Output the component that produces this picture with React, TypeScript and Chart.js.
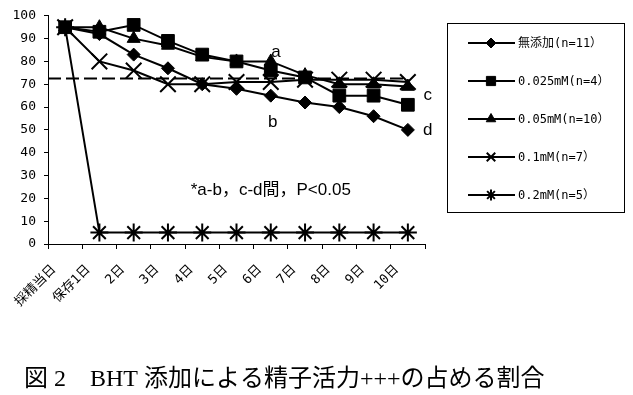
import React, { useEffect, useRef } from 'react';
import { Chart, registerables } from 'chart.js';
import { drawPoint } from 'chart.js/helpers';

Chart.register(...registerables);

const categories = ['採精当日', '保存1日', '2日', '3日', '4日', '5日', '6日', '7日', '8日', '9日', '10日'];
const seriesNames = ['無添加(n=11）', '0.025mM(n=4）', '0.05mM(n=10）', '0.1mM(n=7）', '0.2mM(n=5）'];
const noAdditive = [95, 92, 83, 77, 70, 68, 65, 62, 60, 56, 50];
const bht0025 = [95, 93, 96, 89, 83, 80, 76, 73, 65, 65, 61];
const bht005 = [95, 95, 90, 87, 82, 80, 80, 74, 70, 70, 69];
const bht01 = [95, 80, 76, 70, 70, 71, 71, 72, 72, 72, 71];
const bht02 = [95, 5, 5, 5, 5, 5, 5, 5, 5, 5, 5];
const referenceLevel = 72.5;
const markLabels = ['a', 'b', 'c', 'd'];
const markIndex = [6.15, 6.06, 10.58, 10.58];
const markValues = [84, 53.5, 65.3, 50];
const noteText = '*a-b，c-d間，P<0.05';
const noteIndex = 6;
const noteValue = 23.5;
const caption = '図 2　BHT 添加による精子活力+++の占める割合';

const MONO = "'DejaVu Sans Mono', 'Noto Sans CJK JP', sans-serif";
const pointStyles = ['rectRot', 'rect', 'triangle', 'crossRot', 'star'];
const pointRadii = [6.5, 9, 7.5, 11, 9];
const legendRadii = [5, 6.5, 5.5, 6, 5.5];

const overlay = {
  id: 'overlay',
  beforeDatasetsDraw(chart: any) {
    const { ctx, chartArea, scales } = chart;
    const x = scales.x;
    const y = scales.y;
    const py = y.getPixelForValue(referenceLevel);
    ctx.save();
    ctx.strokeStyle = '#000';
    ctx.lineWidth = 2;
    ctx.setLineDash([13, 5]);
    ctx.beginPath();
    ctx.moveTo(chartArea.left, py);
    ctx.lineTo(x.getPixelForValue(categories.length - 1), py);
    ctx.stroke();
    ctx.restore();
  },
  afterDraw(chart: any) {
    const { ctx, scales } = chart;
    const x = scales.x;
    const y = scales.y;
    ctx.save();
    ctx.fillStyle = '#000';
    ctx.textAlign = 'center';
    ctx.textBaseline = 'middle';
    ctx.font = "17px 'Liberation Sans', sans-serif";
    markLabels.forEach((t, i) => {
      ctx.fillText(t, x.getPixelForValue(markIndex[i]), y.getPixelForValue(markValues[i]));
    });
    ctx.font = "17px 'Liberation Sans', 'Noto Sans CJK JP', sans-serif";
    ctx.fillText(noteText, x.getPixelForValue(noteIndex), y.getPixelForValue(noteValue));

    // legend
    const bx = 447.5, by = 23.5, bw = 177, bh = 189;
    ctx.strokeStyle = '#000';
    ctx.lineWidth = 1;
    ctx.strokeRect(bx, by, bw, bh);
    ctx.textAlign = 'left';
    ctx.font = `12px ${MONO}`;
    chart.data.datasets.forEach((ds: any, i: number) => {
      const ry = 43 + i * 38;
      ctx.lineWidth = 2;
      ctx.strokeStyle = '#000';
      ctx.beginPath();
      ctx.moveTo(468, ry);
      ctx.lineTo(515, ry);
      ctx.stroke();
      ctx.fillStyle = '#000';
      ctx.lineWidth = i >= 3 ? 2 : 1;
      drawPoint(ctx, { pointStyle: pointStyles[i], radius: legendRadii[i], rotation: 0, borderWidth: i >= 3 ? 2 : 1 }, 491, ry);
      ctx.fillStyle = '#000';
      ctx.fillText(ds.label, 518, ry + 1);
    });

    // caption
    ctx.textBaseline = 'alphabetic';
    ctx.font = "24px 'Liberation Serif', 'Noto Sans CJK JP', serif";
    ctx.fillText(caption, 24, 386);
    ctx.restore();
  },
};

export default function App() {
  const ref = useRef<HTMLCanvasElement>(null);
  useEffect(() => {
    document.body.style.margin = '0';
    const canvas = ref.current!;
    const series = [noAdditive, bht0025, bht005, bht01, bht02];
    const chart = new Chart(canvas, {
      type: 'line',
      data: {
        labels: categories,
        datasets: series.map((d, i) => ({
          label: seriesNames[i],
          data: d,
          borderColor: '#000',
          backgroundColor: '#000',
          borderWidth: 2,
          pointStyle: pointStyles[i] as any,
          pointRadius: pointRadii[i],
          pointBorderWidth: i >= 3 ? 2 : 1,
          pointBackgroundColor: '#000',
          pointBorderColor: '#000',
          tension: 0,
          clip: false as any,
        })),
      },
      options: {
        responsive: false,
        animation: false,
        devicePixelRatio: 1,
        layout: { padding: { top: 15, right: 208, left: 0, bottom: 0 } },
        plugins: { legend: { display: false }, tooltip: { enabled: false } },
        scales: {
          x: {
            offset: true,
            grid: { offset: true, drawOnChartArea: false, tickLength: 5, color: '#000' },
            border: { color: '#000', width: 1 },
            ticks: {
              color: '#000',
              minRotation: 45,
              maxRotation: 45,
              autoSkip: false,
              padding: 13,
              labelOffset: -11,
              font: { family: MONO, size: 13 },
            },
            afterFit: (s: any) => { s.height = 151; },
          },
          y: {
            min: 0,
            max: 100,
            ticks: { stepSize: 10, color: '#000', padding: 8, font: { family: MONO, size: 13 } },
            grid: { drawOnChartArea: false, tickLength: 4, color: '#000' },
            border: { color: '#000', width: 1 },
            afterFit: (s: any) => { s.width = 48; },
          },
        },
      },
      plugins: [overlay],
    } as any);
    return () => chart.destroy();
  }, []);
  return (
    <div style={{ width: 633, height: 395 }}>
      <canvas ref={ref} width={633} height={395} style={{ display: 'block' }} />
    </div>
  );
}
